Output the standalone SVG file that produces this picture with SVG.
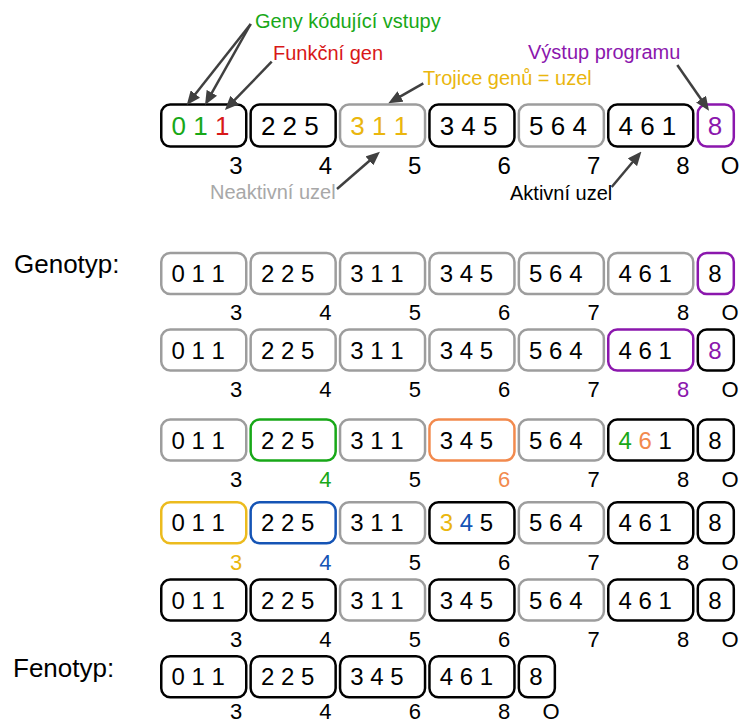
<svg xmlns="http://www.w3.org/2000/svg" width="743" height="724" viewBox="0 0 743 724">
<style>
text{font-family:"Liberation Sans",Arial,Helvetica,sans-serif;fill:#000}
.b{fill:#fff;stroke:#000;stroke-width:2.5}
.g{stroke:#9d9d9d}
.pu{stroke:#8b17ad}
.gr{stroke:#18a818}
.or{stroke:#f28a4e}
.ye{stroke:#ecbb1e}
.bl{stroke:#1554b5}
.t{font-size:24px}
.tt{font-size:26px}
.l{font-size:22px;text-anchor:middle}
.lt{font-size:24px;text-anchor:middle}
.m{text-anchor:middle}
.a{font-size:20px}
.h{font-size:26px}
.cg{fill:#18a818}
.cr{fill:#d81818}
.cy{fill:#eab60e}
.cp{fill:#8b17ad}
.co{fill:#f28a4e}
.cb{fill:#1554b5}
.cgr{fill:#a8a8a8}
.ar{stroke:#404040;stroke-width:2.5;fill:none;marker-end:url(#ah)}
</style>
<defs>
<marker id="ah" markerUnits="userSpaceOnUse" markerWidth="14" markerHeight="12" viewBox="0 0 14 12" refX="1" refY="6" orient="auto">
<path d="M0,0 L14,6 L0,12 z" fill="#404040"/>
</marker>
</defs>

<!-- Annotations -->
<g id="annotations">
<text class="a cg" x="255" y="28">Geny kódující vstupy</text>
<text class="a cr" x="273" y="60">Funkční gen</text>
<text class="a cy" x="423" y="85">Trojice genů = uzel</text>
<text class="a cp" x="528" y="59">Výstup programu</text>
<text class="a cgr" x="210" y="199">Neaktivní uzel</text>
<text class="a" x="510" y="200">Aktivní uzel</text>
</g>

<!-- Top row -->
<g id="top-n3"><rect class="b" x="161.25" y="104.5" width="85" height="42" rx="9"/><text class="tt" x="171.5" y="135"><tspan class="cg">0 1 </tspan><tspan class="cr">1</tspan></text><text class="lt" x="236" y="174">3</text></g>
<g id="top-n4"><rect class="b" x="250.65" y="104.5" width="85" height="42" rx="9"/><text class="tt" x="260.9" y="135">2 2 5</text><text class="lt" x="325.4" y="174">4</text></g>
<g id="top-n5"><rect class="b g" x="340.05" y="104.5" width="85" height="42" rx="9"/><text class="tt cy" x="350.3" y="135">3 1 1</text><text class="lt" x="414.8" y="174">5</text></g>
<g id="top-n6"><rect class="b" x="429.45" y="104.5" width="85" height="42" rx="9"/><text class="tt" x="439.7" y="135">3 4 5</text><text class="lt" x="504.2" y="174">6</text></g>
<g id="top-n7"><rect class="b g" x="518.85" y="104.5" width="85" height="42" rx="9"/><text class="tt" x="529.1" y="135">5 6 4</text><text class="lt" x="593.6" y="174">7</text></g>
<g id="top-n8"><rect class="b" x="608.25" y="104.5" width="85" height="42" rx="9"/><text class="tt" x="618.5" y="135">4 6 1</text><text class="lt" x="683" y="174">8</text></g>
<g id="top-out"><rect class="b pu" x="697.8" y="104.5" width="36" height="42" rx="9"/><text class="tt m cp" x="715" y="135">8</text><text class="lt" x="730" y="174">O</text></g>

<g id="connectors">
<path class="ar" d="M250.7,24 L194.8,94.8"/>
<path class="ar" d="M250.7,24 L211.4,93.7"/>
<path class="ar" d="M271.7,61.7 L234,100.7"/>
<path class="ar" d="M423.3,83.3 L399.6,96.9"/>
<path class="ar" d="M337,189 L370.1,160.2"/>
<path class="ar" d="M611.7,187 L633.1,161.5"/>
<path class="ar" d="M677.3,65 L701.6,100"/>
</g>

<text class="h" x="14" y="273">Genotyp:</text>
<text class="h" x="13" y="677">Fenotyp:</text>

<!-- Row 1 -->
<g id="r1-n3"><rect class="b g" x="161.25" y="253" width="85" height="41" rx="9"/><text class="t" x="171.5" y="282">0 1 1</text><text class="l" x="236" y="320">3</text></g>
<g id="r1-n4"><rect class="b g" x="250.65" y="253" width="85" height="41" rx="9"/><text class="t" x="260.9" y="282">2 2 5</text><text class="l" x="325.4" y="320">4</text></g>
<g id="r1-n5"><rect class="b g" x="340.05" y="253" width="85" height="41" rx="9"/><text class="t" x="350.3" y="282">3 1 1</text><text class="l" x="414.8" y="320">5</text></g>
<g id="r1-n6"><rect class="b g" x="429.45" y="253" width="85" height="41" rx="9"/><text class="t" x="439.7" y="282">3 4 5</text><text class="l" x="504.2" y="320">6</text></g>
<g id="r1-n7"><rect class="b g" x="518.85" y="253" width="85" height="41" rx="9"/><text class="t" x="529.1" y="282">5 6 4</text><text class="l" x="593.6" y="320">7</text></g>
<g id="r1-n8"><rect class="b g" x="608.25" y="253" width="85" height="41" rx="9"/><text class="t" x="618.5" y="282">4 6 1</text><text class="l" x="683" y="320">8</text></g>
<g id="r1-out"><rect class="b pu" x="697.8" y="253" width="36" height="41" rx="9"/><text class="t m" x="715" y="282">8</text><text class="l" x="730" y="320">O</text></g>

<!-- Row 2 -->
<g id="r2-n3"><rect class="b g" x="161.25" y="329.5" width="85" height="41" rx="9"/><text class="t" x="171.5" y="358.5">0 1 1</text><text class="l" x="236" y="396.7">3</text></g>
<g id="r2-n4"><rect class="b g" x="250.65" y="329.5" width="85" height="41" rx="9"/><text class="t" x="260.9" y="358.5">2 2 5</text><text class="l" x="325.4" y="396.7">4</text></g>
<g id="r2-n5"><rect class="b g" x="340.05" y="329.5" width="85" height="41" rx="9"/><text class="t" x="350.3" y="358.5">3 1 1</text><text class="l" x="414.8" y="396.7">5</text></g>
<g id="r2-n6"><rect class="b g" x="429.45" y="329.5" width="85" height="41" rx="9"/><text class="t" x="439.7" y="358.5">3 4 5</text><text class="l" x="504.2" y="396.7">6</text></g>
<g id="r2-n7"><rect class="b g" x="518.85" y="329.5" width="85" height="41" rx="9"/><text class="t" x="529.1" y="358.5">5 6 4</text><text class="l" x="593.6" y="396.7">7</text></g>
<g id="r2-n8"><rect class="b pu" x="608.25" y="329.5" width="85" height="41" rx="9"/><text class="t" x="618.5" y="358.5">4 6 1</text><text class="l cp" x="683" y="396.7">8</text></g>
<g id="r2-out"><rect class="b" x="697.8" y="329.5" width="36" height="41" rx="9"/><text class="t m cp" x="715" y="358.5">8</text><text class="l" x="730" y="396.7">O</text></g>

<!-- Row 3 -->
<g id="r3-n3"><rect class="b g" x="161.25" y="419.5" width="85" height="41" rx="9"/><text class="t" x="171.5" y="448.5">0 1 1</text><text class="l" x="236" y="486.7">3</text></g>
<g id="r3-n4"><rect class="b gr" x="250.65" y="419.5" width="85" height="41" rx="9"/><text class="t" x="260.9" y="448.5">2 2 5</text><text class="l cg" x="325.4" y="486.7">4</text></g>
<g id="r3-n5"><rect class="b g" x="340.05" y="419.5" width="85" height="41" rx="9"/><text class="t" x="350.3" y="448.5">3 1 1</text><text class="l" x="414.8" y="486.7">5</text></g>
<g id="r3-n6"><rect class="b or" x="429.45" y="419.5" width="85" height="41" rx="9"/><text class="t" x="439.7" y="448.5">3 4 5</text><text class="l co" x="504.2" y="486.7">6</text></g>
<g id="r3-n7"><rect class="b g" x="518.85" y="419.5" width="85" height="41" rx="9"/><text class="t" x="529.1" y="448.5">5 6 4</text><text class="l" x="593.6" y="486.7">7</text></g>
<g id="r3-n8"><rect class="b" x="608.25" y="419.5" width="85" height="41" rx="9"/><text class="t" x="618.5" y="448.5"><tspan class="cg">4</tspan> <tspan class="co">6</tspan> 1</text><text class="l" x="683" y="486.7">8</text></g>
<g id="r3-out"><rect class="b" x="697.8" y="419.5" width="36" height="41" rx="9"/><text class="t m" x="715" y="448.5">8</text><text class="l" x="730" y="486.7">O</text></g>

<!-- Row 4 -->
<g id="r4-n3"><rect class="b ye" x="161.25" y="502.3" width="85" height="41" rx="9"/><text class="t" x="171.5" y="531.3">0 1 1</text><text class="l cy" x="236" y="569.5">3</text></g>
<g id="r4-n4"><rect class="b bl" x="250.65" y="502.3" width="85" height="41" rx="9"/><text class="t" x="260.9" y="531.3">2 2 5</text><text class="l cb" x="325.4" y="569.5">4</text></g>
<g id="r4-n5"><rect class="b g" x="340.05" y="502.3" width="85" height="41" rx="9"/><text class="t" x="350.3" y="531.3">3 1 1</text><text class="l" x="414.8" y="569.5">5</text></g>
<g id="r4-n6"><rect class="b" x="429.45" y="502.3" width="85" height="41" rx="9"/><text class="t" x="439.7" y="531.3"><tspan class="cy">3</tspan> <tspan class="cb">4</tspan> 5</text><text class="l" x="504.2" y="569.5">6</text></g>
<g id="r4-n7"><rect class="b g" x="518.85" y="502.3" width="85" height="41" rx="9"/><text class="t" x="529.1" y="531.3">5 6 4</text><text class="l" x="593.6" y="569.5">7</text></g>
<g id="r4-n8"><rect class="b" x="608.25" y="502.3" width="85" height="41" rx="9"/><text class="t" x="618.5" y="531.3">4 6 1</text><text class="l" x="683" y="569.5">8</text></g>
<g id="r4-out"><rect class="b" x="697.8" y="502.3" width="36" height="41" rx="9"/><text class="t m" x="715" y="531.3">8</text><text class="l" x="730" y="569.5">O</text></g>

<!-- Row 5 -->
<g id="r5-n3"><rect class="b" x="161.25" y="579.5" width="85" height="41" rx="9"/><text class="t" x="171.5" y="608.5">0 1 1</text><text class="l" x="236" y="646.7">3</text></g>
<g id="r5-n4"><rect class="b" x="250.65" y="579.5" width="85" height="41" rx="9"/><text class="t" x="260.9" y="608.5">2 2 5</text><text class="l" x="325.4" y="646.7">4</text></g>
<g id="r5-n5"><rect class="b g" x="340.05" y="579.5" width="85" height="41" rx="9"/><text class="t" x="350.3" y="608.5">3 1 1</text><text class="l" x="414.8" y="646.7">5</text></g>
<g id="r5-n6"><rect class="b" x="429.45" y="579.5" width="85" height="41" rx="9"/><text class="t" x="439.7" y="608.5">3 4 5</text><text class="l" x="504.2" y="646.7">6</text></g>
<g id="r5-n7"><rect class="b g" x="518.85" y="579.5" width="85" height="41" rx="9"/><text class="t" x="529.1" y="608.5">5 6 4</text><text class="l" x="593.6" y="646.7">7</text></g>
<g id="r5-n8"><rect class="b" x="608.25" y="579.5" width="85" height="41" rx="9"/><text class="t" x="618.5" y="608.5">4 6 1</text><text class="l" x="683" y="646.7">8</text></g>
<g id="r5-out"><rect class="b" x="697.8" y="579.5" width="36" height="41" rx="9"/><text class="t m" x="715" y="608.5">8</text><text class="l" x="730" y="646.7">O</text></g>

<!-- Fenotyp -->
<g id="f-n3"><rect class="b" x="161.25" y="656.3" width="85" height="41" rx="9"/><text class="t" x="171.5" y="685.3">0 1 1</text><text class="l" x="236" y="719">3</text></g>
<g id="f-n4"><rect class="b" x="250.65" y="656.3" width="85" height="41" rx="9"/><text class="t" x="260.9" y="685.3">2 2 5</text><text class="l" x="325.4" y="719">4</text></g>
<g id="f-n6"><rect class="b" x="340.05" y="656.3" width="85" height="41" rx="9"/><text class="t" x="350.3" y="685.3">3 4 5</text><text class="l" x="414.8" y="719">6</text></g>
<g id="f-n8"><rect class="b" x="429.45" y="656.3" width="85" height="41" rx="9"/><text class="t" x="439.7" y="685.3">4 6 1</text><text class="l" x="504.2" y="719">8</text></g>
<g id="f-out"><rect class="b" x="518.85" y="656.3" width="36" height="41" rx="9"/><text class="t m" x="536" y="685.3">8</text><text class="l" x="551" y="719">O</text></g>
</svg>
